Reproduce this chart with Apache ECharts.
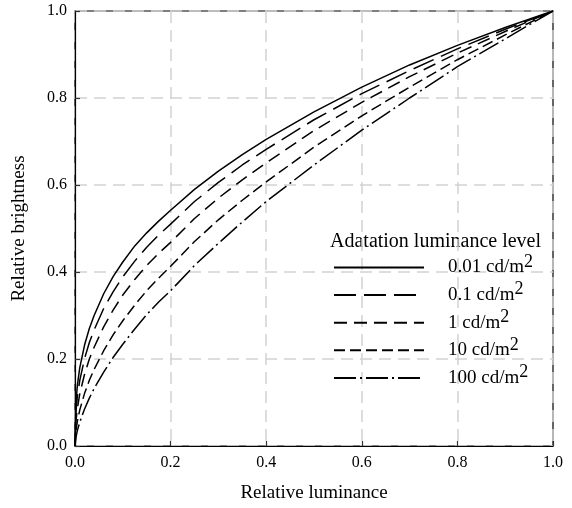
<!DOCTYPE html>
<html><head><meta charset="utf-8">
<script src="https://cdn.jsdelivr.net/npm/echarts@6/dist/echarts.min.js"></script>
<style>html,body{margin:0;padding:0;background:#fff}#c{width:572px;height:508px}</style>
</head><body><div id="c"></div>
<script>
const luminance = [0, 0.002, 0.005, 0.01, 0.02, 0.03, 0.04, 0.06, 0.08, 0.1, 0.125, 0.15, 0.175, 0.2, 0.25, 0.3, 0.35, 0.4, 0.5, 0.6, 0.7, 0.8, 0.9, 1.0];
const b001 = [0, 0.10, 0.14, 0.18, 0.232, 0.27, 0.30, 0.35, 0.39, 0.423, 0.46, 0.49, 0.517, 0.542, 0.59, 0.632, 0.67, 0.705, 0.768, 0.825, 0.876, 0.921, 0.962, 1.0];
const b01  = [0, 0.08, 0.114, 0.151, 0.201, 0.238, 0.267, 0.316, 0.355, 0.389, 0.425, 0.457, 0.485, 0.51, 0.562, 0.606, 0.646, 0.682, 0.75, 0.81, 0.863, 0.913, 0.958, 1.0];
const b1   = [0, 0.058, 0.087, 0.12, 0.165, 0.2, 0.227, 0.274, 0.313, 0.347, 0.383, 0.415, 0.443, 0.468, 0.523, 0.57, 0.612, 0.651, 0.725, 0.79, 0.849, 0.903, 0.953, 1.0];
const b10  = [0, 0.035, 0.057, 0.083, 0.121, 0.151, 0.176, 0.219, 0.256, 0.288, 0.324, 0.357, 0.386, 0.413, 0.47, 0.52, 0.565, 0.607, 0.687, 0.759, 0.825, 0.888, 0.945, 1.0];
const b100 = [0, 0.02, 0.036, 0.055, 0.085, 0.11, 0.132, 0.17, 0.204, 0.234, 0.269, 0.302, 0.331, 0.357, 0.415, 0.466, 0.515, 0.562, 0.646, 0.726, 0.8, 0.872, 0.936, 1.0];
const seriesNames = ['0.01', '0.1', '1', '10', '100'];
const seriesValues = [b001, b01, b1, b10, b100];
const tickValues = [0, 0.2, 0.4, 0.6, 0.8, 1.0];
const legendTitle = 'Adatation luminance level';
const xName = 'Relative luminance';
const yName = 'Relative brightness';

const dashes = ['solid', [22, 8], [13, 7], [11, 5], [22, 4, 2, 4]];
const FONT = '"Liberation Serif", "Times New Roman", serif';

const chart = echarts.init(document.getElementById('c'), null, {renderer: 'canvas'});
const series = seriesNames.map((n, i) => ({
  name: n,
  type: 'line',
  data: luminance.map((x, k) => [x, seriesValues[i][k]]),
  showSymbol: false,
  symbol: 'none',
  smooth: false,
  lineStyle: {color: '#000', width: 1.5, type: dashes[i]},
  itemStyle: {color: '#000'},
  animation: false
}));

const axisCommon = {
  type: 'value', min: 0, max: 1, interval: 0.2,
  axisLine: {show: true, lineStyle: {color: '#000', width: 1.2}},
  axisTick: {show: true, inside: true, length: 5, lineStyle: {color: '#333', width: 1.2}},
  splitLine: {show: true, lineStyle: {color: '#d2d2d2', width: 1.5, type: [12, 7]}},
  axisLabel: {color: '#000', fontFamily: FONT, fontSize: 16, formatter: v => v.toFixed(1)},
  nameTextStyle: {color: '#000', fontFamily: FONT, fontSize: 19}
};

chart.setOption({
  animation: false,
  backgroundColor: '#fff',
  grid: {left: 75, top: 11, right: 19, bottom: 62, show: true, borderColor: '#000', borderWidth: 1.2, backgroundColor: 'transparent'},
  xAxis: Object.assign({}, axisCommon, {
    name: xName, nameLocation: 'middle', nameGap: 38,
    axisLabel: Object.assign({}, axisCommon.axisLabel, {margin: 9})
  }),
  yAxis: Object.assign({}, axisCommon, {
    name: yName, nameLocation: 'middle', nameGap: 46, nameRotate: 90,
    axisLabel: Object.assign({}, axisCommon.axisLabel, {margin: 8})
  }),
  legend: {
    orient: 'vertical', left: 333, top: 253, padding: 0,
    itemWidth: 90, itemHeight: 14, itemGap: 3.6,
    data: seriesNames,
    itemStyle: {opacity: 0},
    formatter: n => '{a|' + n + ' cd/m}{s|2}',
    textStyle: {
      color: '#000', fontFamily: FONT, fontSize: 19, padding: [0, 0, 0, 19],
      rich: {
        a: {fontFamily: FONT, fontSize: 19, color: '#000'},
        s: {fontFamily: FONT, fontSize: 18, color: '#000', padding: [0, 0, 11, 0]}
      }
    }
  },
  graphic: [{
    type: 'text', left: 330, top: 232,
    style: {text: legendTitle, font: '20px ' + FONT, fill: '#000'}
  }],
  series: series
});
</script></body></html>
